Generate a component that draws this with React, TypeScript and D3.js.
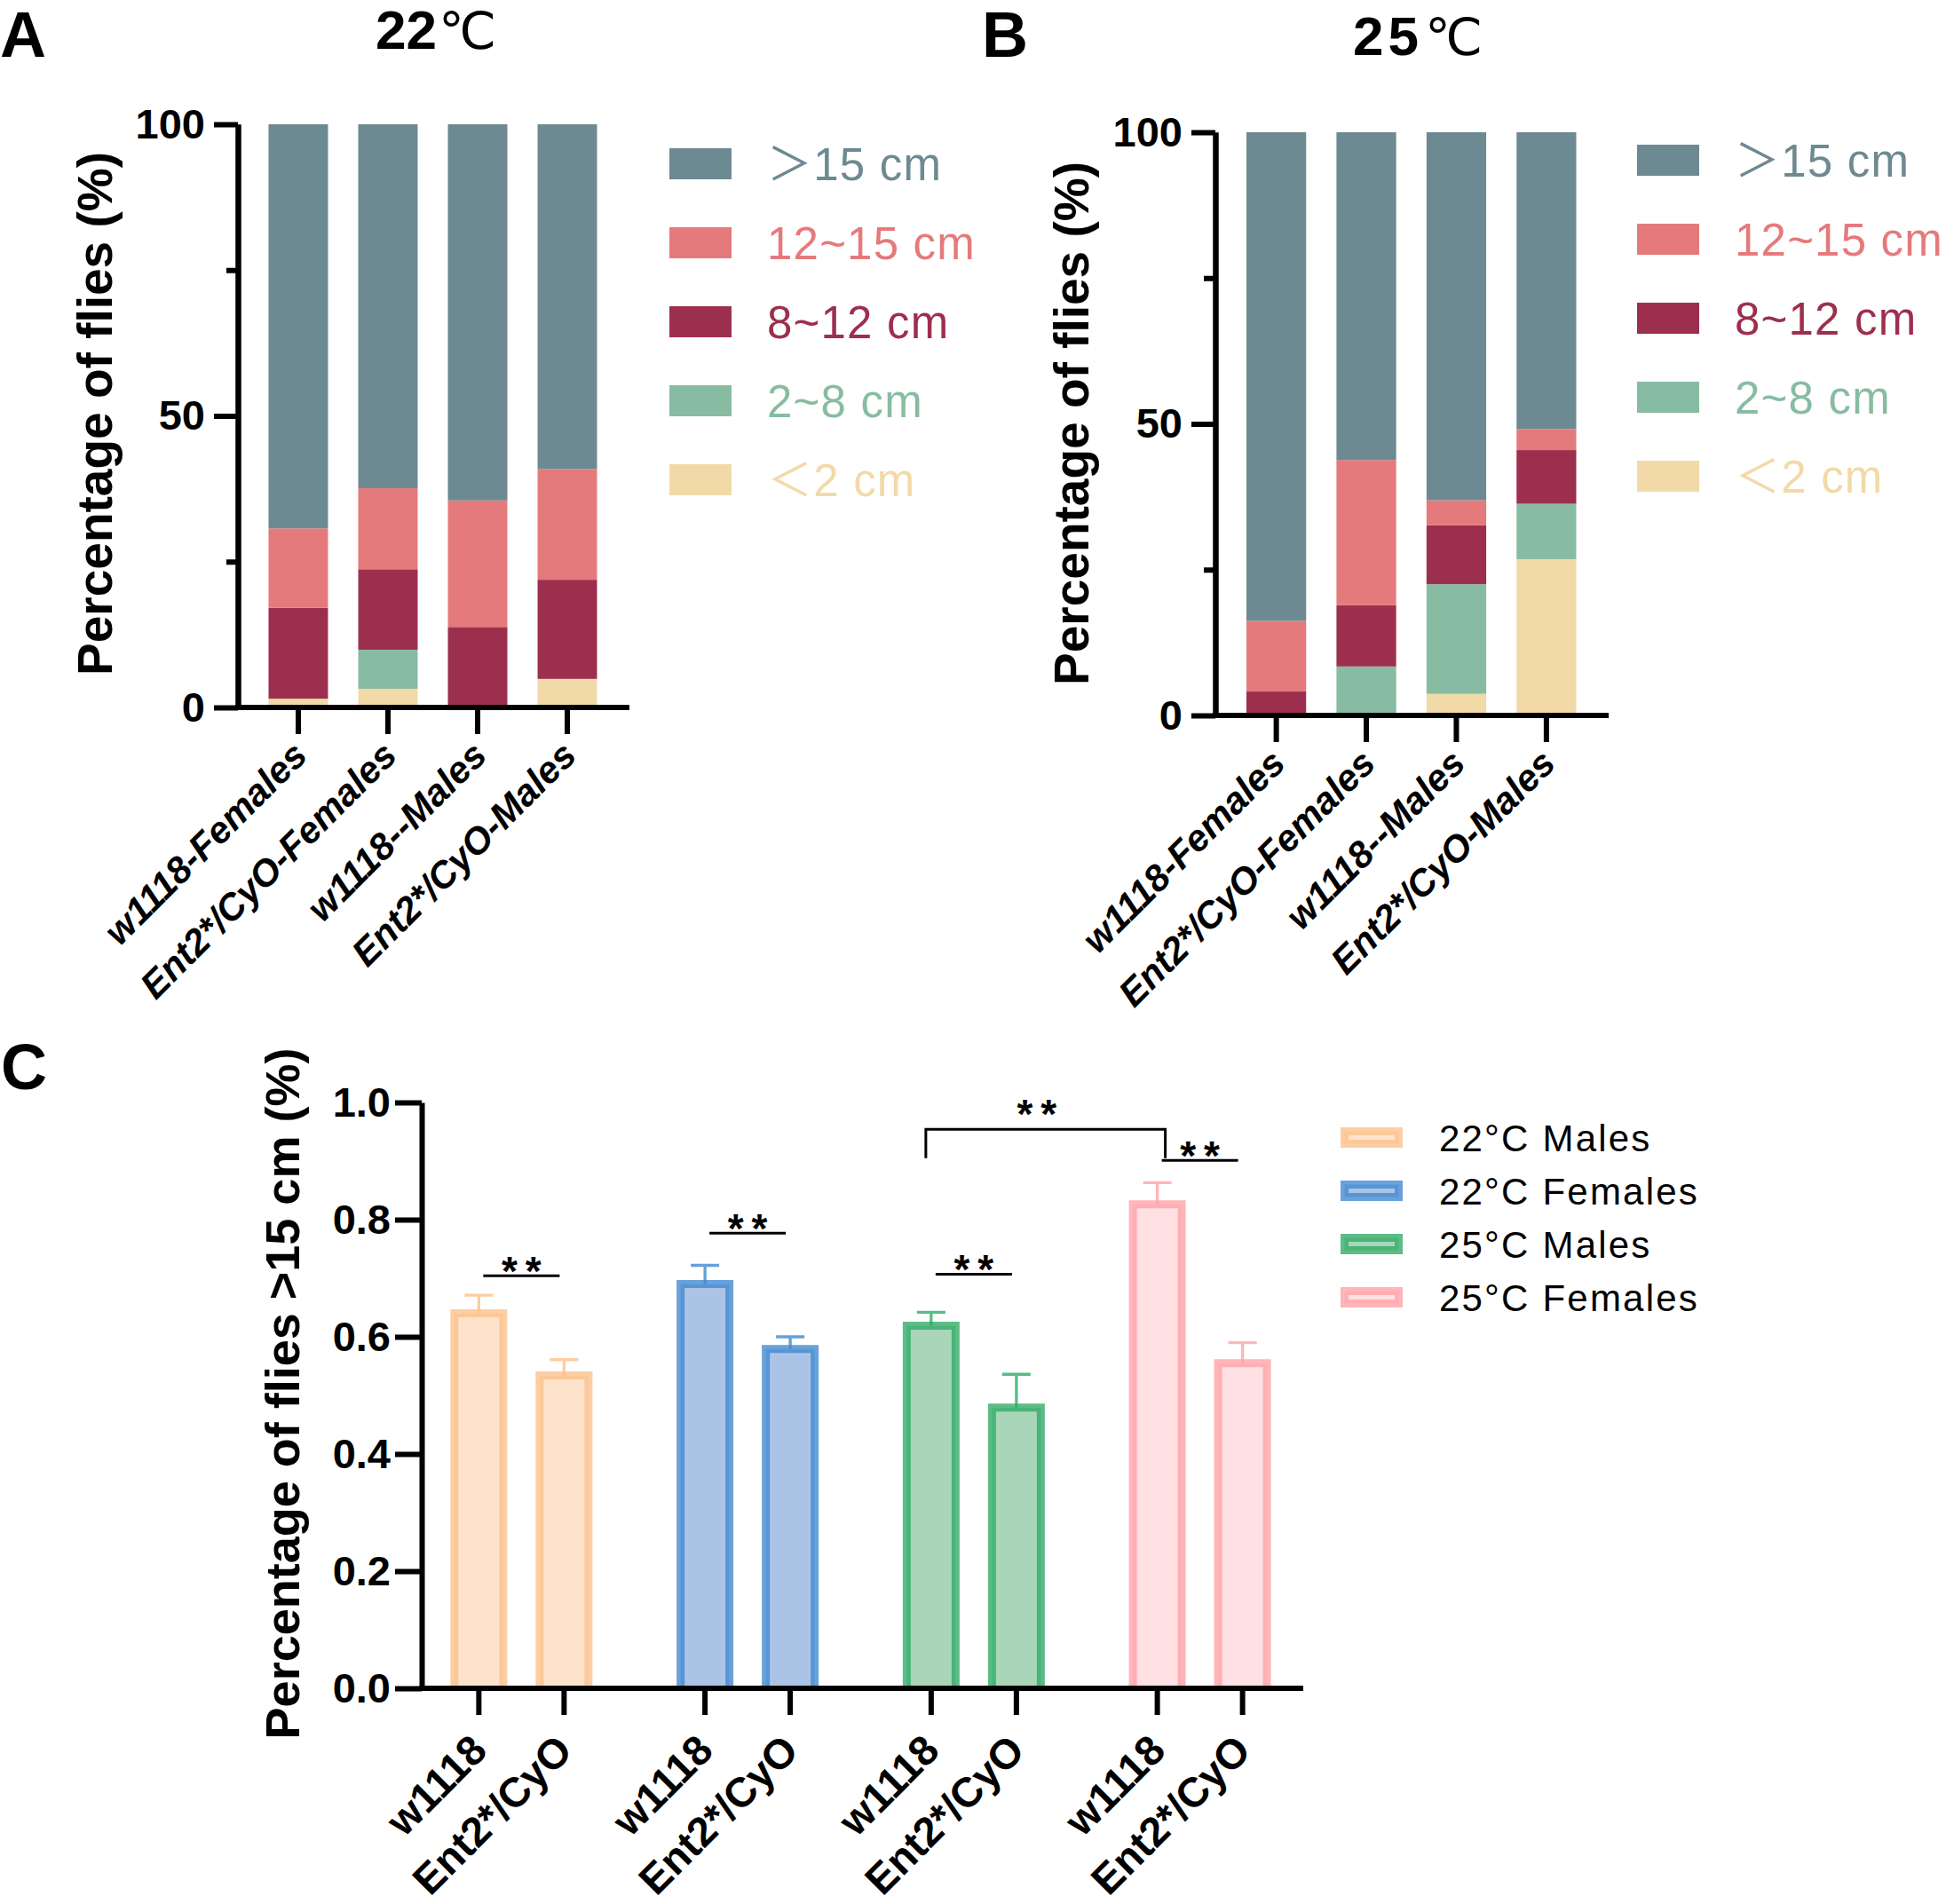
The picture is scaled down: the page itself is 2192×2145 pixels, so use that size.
import { useEffect, useRef } from 'react';
import * as d3 from 'd3';

const W = 2192;
const H = 2145;
const SANS = "'Liberation Sans', Arial, 'Noto Sans CJK SC', sans-serif";
const SYM = "'DejaVu Sans', 'Liberation Sans', sans-serif";

// stacked panels: distance bins, bottom of the stack first
const distanceBins = ['＜2 cm', '2~8 cm', '8~12 cm', '12~15 cm', '＞15 cm'];
const binColors = ['#f2daa8', '#88bca2', '#9d2f4e', '#e57a7c', '#6d8a92'];
const stackGroups = ['w1118-Females', 'Ent2*/CyO-Females', 'w1118--Males', 'Ent2*/CyO-Males'];
const stackTicks = [0, 50, 100];
const stackMinorTicks = [25, 75];

// panel A, 22 °C (% of flies)
const a22Below2 = [1.5, 3.2, 0, 4.9];
const a22From2To8 = [0, 6.7, 0, 0];
const a22From8To12 = [15.6, 13.8, 13.8, 17.0];
const a22From12To15 = [13.6, 13.9, 21.7, 19.0];
const a22Above15 = [69.3, 62.4, 64.5, 59.1];

// panel B, 25 °C (% of flies)
const b25Below2 = [0, 0, 3.7, 26.8];
const b25From2To8 = [0, 8.4, 18.8, 9.5];
const b25From8To12 = [4.1, 10.5, 10.1, 9.2];
const b25From12To15 = [12.1, 24.9, 4.3, 3.6];
const b25Above15 = [83.8, 56.2, 63.1, 50.9];

// panel C: fraction of flies > 15 cm
const barGroups = ['22°C Males', '22°C Females', '25°C Males', '25°C Females'];
const genotypes = ['w1118', 'Ent2*/CyO'];
const meanW1118 = [0.64, 0.69, 0.619, 0.826];
const semW1118 = [0.031, 0.032, 0.023, 0.037];
const meanEnt2 = [0.534, 0.579, 0.479, 0.555];
const semEnt2 = [0.027, 0.021, 0.057, 0.035];
const groupFill = ['#fee3cc', '#abc4e6', '#a9d5b9', '#ffe0e3'];
const groupStroke = ['#fcc08a', '#3f88d0', '#2eab64', '#ffa2a7'];
const cTicks = [0, 0.2, 0.4, 0.6, 0.8, 1.0];

// significance: [group, genotype] pairs, line height in data units
const comparisons = [
  { a: [0, 0], b: [0, 1], y: 0.704, label: '**' },
  { a: [1, 0], b: [1, 1], y: 0.777, label: '**' },
  { a: [2, 0], b: [2, 1], y: 0.707, label: '**' },
  { a: [3, 0], b: [3, 1], y: 0.901, label: '**' },
];
const bracket = { a: [2, 0], b: [3, 0], y: 0.954, leg: 0.905, label: '**' };

type StackOpts = {
  values: number[][];
  axisX: number;
  yZero: number;
  yHundred: number;
  barRange: [number, number];
  xEnd: number;
  legendX: number;
  legendY: number;
  letter: string;
  letterX: number;
  title: string;
  titleX: number;
  titleY: number;
  titleSpacing: number;
  labelX: number;
  labelY: number;
};

function styleAxis(g: any) {
  g.selectAll('path').attr('stroke', '#000').attr('stroke-width', 6);
  g.selectAll('line').attr('stroke', '#000').attr('stroke-width', 6);
  g.selectAll('text')
    .attr('fill', '#000')
    .attr('font-family', SANS)
    .attr('font-weight', 'bold')
    .attr('font-size', 47);
}

function stackPanel(root: any, o: StackOpts) {
  const rows = stackGroups.map((name, i) => {
    const r: any = { name };
    distanceBins.forEach((b, j) => (r[b] = o.values[j][i]));
    return r;
  });
  const series = d3.stack<any>().keys(distanceBins)(rows);

  const x = d3.scaleBand().domain(stackGroups).range(o.barRange).paddingInner(0.337);
  const y = d3.scaleLinear().domain([0, 100]).range([o.yZero, o.yHundred]);

  const g = root.append('g');

  g.selectAll('g.bin')
    .data(series)
    .join('g')
    .attr('fill', (_d: any, i: number) => binColors[i])
    .selectAll('rect')
    .data((d: any) => d)
    .join('rect')
    .attr('x', (d: any) => x(d.data.name))
    .attr('width', x.bandwidth())
    .attr('y', (d: any) => y(d[1]))
    .attr('height', (d: any) => Math.max(0, y(d[0]) - y(d[1])));

  g.append('g')
    .attr('transform', `translate(${o.axisX},0)`)
    .call(d3.axisLeft(y).tickValues(stackMinorTicks).tickSize(13).tickSizeOuter(0).tickFormat(() => ''))
    .call(styleAxis);

  g.append('g')
    .attr('transform', `translate(${o.axisX},0)`)
    .call(d3.axisLeft(y).tickValues(stackTicks).tickSize(27).tickSizeOuter(0).tickPadding(10))
    .call(styleAxis);

  const xa = g
    .append('g')
    .attr('transform', `translate(0,${o.yZero})`)
    .call(d3.axisBottom(x).tickSize(30).tickSizeOuter(0))
    .call(styleAxis);
  xa.select('.domain').remove();
  xa.selectAll('text')
    .attr('font-style', 'italic')
    .attr('font-size', 42)
    .attr('text-anchor', 'end')
    .attr('y', 0)
    .attr('dy', '0.35em')
    .attr('transform', 'translate(2,46) rotate(-45)');

  g.append('line')
    .attr('x1', o.axisX - 3)
    .attr('x2', o.xEnd)
    .attr('y1', o.yZero)
    .attr('y2', o.yZero)
    .attr('stroke', '#000')
    .attr('stroke-width', 6);

  // legend, top of the stack first
  const legend = g.append('g');
  const order = distanceBins.map((b, i) => ({ b, c: binColors[i] })).reverse();
  order.forEach((d, i) => {
    const cy = o.legendY + i * 89;
    legend
      .append('rect')
      .attr('x', o.legendX)
      .attr('y', cy - 17.5)
      .attr('width', 70)
      .attr('height', 35)
      .attr('fill', d.c);
    legend
      .append('text')
      .attr('x', o.legendX + 110)
      .attr('y', cy + 18)
      .attr('fill', d.c)
      .attr('font-family', SANS)
      .attr('font-size', 51)
      .attr('letter-spacing', 1.2)
      .text(d.b);
  });

  root
    .append('text')
    .attr('x', o.letterX)
    .attr('y', 64)
    .attr('font-family', SANS)
    .attr('font-weight', 'bold')
    .attr('font-size', 72)
    .text(o.letter);

  const t = root
    .append('text')
    .attr('x', o.titleX)
    .attr('y', o.titleY)
    .attr('text-anchor', 'middle');
  t.append('tspan')
    .attr('font-family', SANS)
    .attr('font-weight', 'bold')
    .attr('font-size', 62)
    .attr('letter-spacing', o.titleSpacing)
    .text(o.title);
  t.append('tspan').attr('font-family', SYM).attr('font-size', 58).attr('dx', 2).text('℃');

  root
    .append('text')
    .attr('transform', `translate(${o.labelX},${o.labelY}) rotate(-90)`)
    .attr('text-anchor', 'middle')
    .attr('font-family', SANS)
    .attr('font-weight', 'bold')
    .attr('font-size', 55)
    .text('Percentage of flies (%)');
}

function barPanel(root: any) {
  const axisX = 475;
  const yZero = 1902;
  const outer = d3.scaleBand().domain(barGroups).range([460, 1479]);
  const inner = d3.scalePoint().domain(genotypes).range([-48, 48]);
  const y = d3.scaleLinear().domain([0, 1]).range([yZero, 1242]);
  const cx = (gi: number, ki: number) =>
    (outer(barGroups[gi]) as number) + outer.bandwidth() / 2 + (inner(genotypes[ki]) as number);

  const bars = barGroups.flatMap((_grp, i) => [
    { gi: i, ki: 0, mean: meanW1118[i], sem: semW1118[i] },
    { gi: i, ki: 1, mean: meanEnt2[i], sem: semEnt2[i] },
  ]);

  const g = root.append('g');
  const bw = 55;

  // error bars first, bars on top
  bars.forEach((d) => {
    const x = cx(d.gi, d.ki);
    g.append('path')
      .attr('d', `M${x},${y(d.mean)}V${y(d.mean + d.sem)}M${x - 16},${y(d.mean + d.sem)}H${x + 16}`)
      .attr('fill', 'none')
      .attr('stroke', groupStroke[d.gi])
      .attr('stroke-opacity', 0.8)
      .attr('stroke-width', 3.3);
  });

  bars.forEach((d) => {
    const x = cx(d.gi, d.ki);
    g.append('rect')
      .attr('x', x - bw / 2)
      .attr('y', y(d.mean))
      .attr('width', bw)
      .attr('height', yZero - y(d.mean))
      .attr('fill', groupFill[d.gi]);
    g.append('path')
      .attr('d', `M${x - bw / 2},${yZero}V${y(d.mean)}H${x + bw / 2}V${yZero}`)
      .attr('fill', 'none')
      .attr('stroke', groupStroke[d.gi])
      .attr('stroke-opacity', 0.78)
      .attr('stroke-width', 9);
  });

  g.append('g')
    .attr('transform', `translate(${axisX},0)`)
    .call(d3.axisLeft(y).tickValues(cTicks).tickSize(30).tickSizeOuter(0).tickPadding(5).tickFormat(d3.format('.1f')))
    .call(styleAxis);

  const xa = g.append('g').attr('transform', `translate(0,${yZero})`);
  xa.selectAll('g')
    .data(bars)
    .join('g')
    .attr('transform', (d: any) => `translate(${cx(d.gi, d.ki)},0)`)
    .call((s: any) => s.append('line').attr('y2', 30).attr('stroke', '#000').attr('stroke-width', 6))
    .call((s: any) =>
      s
        .append('text')
        .attr('transform', 'translate(0,61) rotate(-45)')
        .attr('dy', '0.35em')
        .attr('text-anchor', 'end')
        .attr('font-family', SANS)
        .attr('font-weight', 'bold')
        .attr('font-size', 47)
        .text((d: any) => genotypes[d.ki])
    );

  g.append('line')
    .attr('x1', axisX - 3)
    .attr('x2', 1468)
    .attr('y1', yZero)
    .attr('y2', yZero)
    .attr('stroke', '#000')
    .attr('stroke-width', 6);

  const stars = (x: number, yy: number, label: string) =>
    g
      .append('text')
      .attr('x', x)
      .attr('y', yy + 11)
      .attr('text-anchor', 'middle')
      .attr('font-family', SANS)
      .attr('font-weight', 'bold')
      .attr('font-size', 46)
      .attr('word-spacing', -4)
      .text(label.split('').join(' '));

  comparisons.forEach((c) => {
    const x1 = cx(c.a[0], c.a[1]);
    const x2 = cx(c.b[0], c.b[1]);
    const mid = (x1 + x2) / 2;
    g.append('line')
      .attr('x1', mid - 43)
      .attr('x2', mid + 43)
      .attr('y1', y(c.y))
      .attr('y2', y(c.y))
      .attr('stroke', '#000')
      .attr('stroke-width', 3);
    stars(mid, y(c.y), c.label);
  });

  const bx1 = cx(bracket.a[0], bracket.a[1]) - 6;
  const bx2 = cx(bracket.b[0], bracket.b[1]) + 9;
  g.append('path')
    .attr('d', `M${bx1},${y(bracket.leg)}V${y(bracket.y)}H${bx2}V${y(bracket.leg)}`)
    .attr('fill', 'none')
    .attr('stroke', '#000')
    .attr('stroke-width', 3);
  stars((bx1 + bx2) / 2 - 10, y(bracket.y) - 12, bracket.label);

  // legend
  barGroups.forEach((name, i) => {
    const cy = 1281.5 + i * 60;
    g.append('rect')
      .attr('x', 1514.5)
      .attr('y', cy - 7)
      .attr('width', 61)
      .attr('height', 14)
      .attr('fill', groupFill[i])
      .attr('stroke', groupStroke[i])
      .attr('stroke-opacity', 0.78)
      .attr('stroke-width', 9);
    g.append('text')
      .attr('x', 1621)
      .attr('y', cy + 15)
      .attr('font-family', SANS)
      .attr('font-size', 42)
      .attr('letter-spacing', 2.2)
      .attr('fill', '#000')
      .text(name);
  });

  root
    .append('text')
    .attr('x', 1)
    .attr('y', 1227)
    .attr('font-family', SANS)
    .attr('font-weight', 'bold')
    .attr('font-size', 72)
    .text('C');

  root
    .append('text')
    .attr('transform', 'translate(337,1570) rotate(-90)')
    .attr('text-anchor', 'middle')
    .attr('font-family', SANS)
    .attr('font-weight', 'bold')
    .attr('font-size', 54)
    .text('Percentage of flies >15 cm (%)');
}

export default function App() {
  const svgRef = useRef<SVGSVGElement | null>(null);

  useEffect(() => {
    const svg = svgRef.current;
    if (!svg) return;
    const root = d3.select(svg);
    root.selectAll('*').remove();
    root.append('rect').attr('width', W).attr('height', H).attr('fill', '#fff');

    stackPanel(root, {
      values: [a22Below2, a22From2To8, a22From8To12, a22From12To15, a22Above15],
      axisX: 268,
      yZero: 797,
      yHundred: 140,
      barRange: [302.5, 672.5],
      xEnd: 709,
      legendX: 754,
      legendY: 184.5,
      letter: 'A',
      letterX: 0,
      title: '22',
      titleX: 491,
      titleY: 55,
      titleSpacing: 0,
      labelX: 126,
      labelY: 466,
    });

    stackPanel(root, {
      values: [b25Below2, b25From2To8, b25From8To12, b25From12To15, b25Above15],
      axisX: 1369,
      yZero: 806,
      yHundred: 149,
      barRange: [1404, 1775.5],
      xEnd: 1812,
      legendX: 1844,
      legendY: 180.5,
      letter: 'B',
      letterX: 1106,
      title: '25',
      titleX: 1597,
      titleY: 62,
      titleSpacing: 5,
      labelX: 1226,
      labelY: 477,
    });

    barPanel(root);
  }, []);

  return (
    <svg
      ref={svgRef}
      width={W}
      height={H}
      viewBox={`0 0 ${W} ${H}`}
      style={{ position: 'absolute', left: 0, top: 0, display: 'block' }}
    />
  );
}
